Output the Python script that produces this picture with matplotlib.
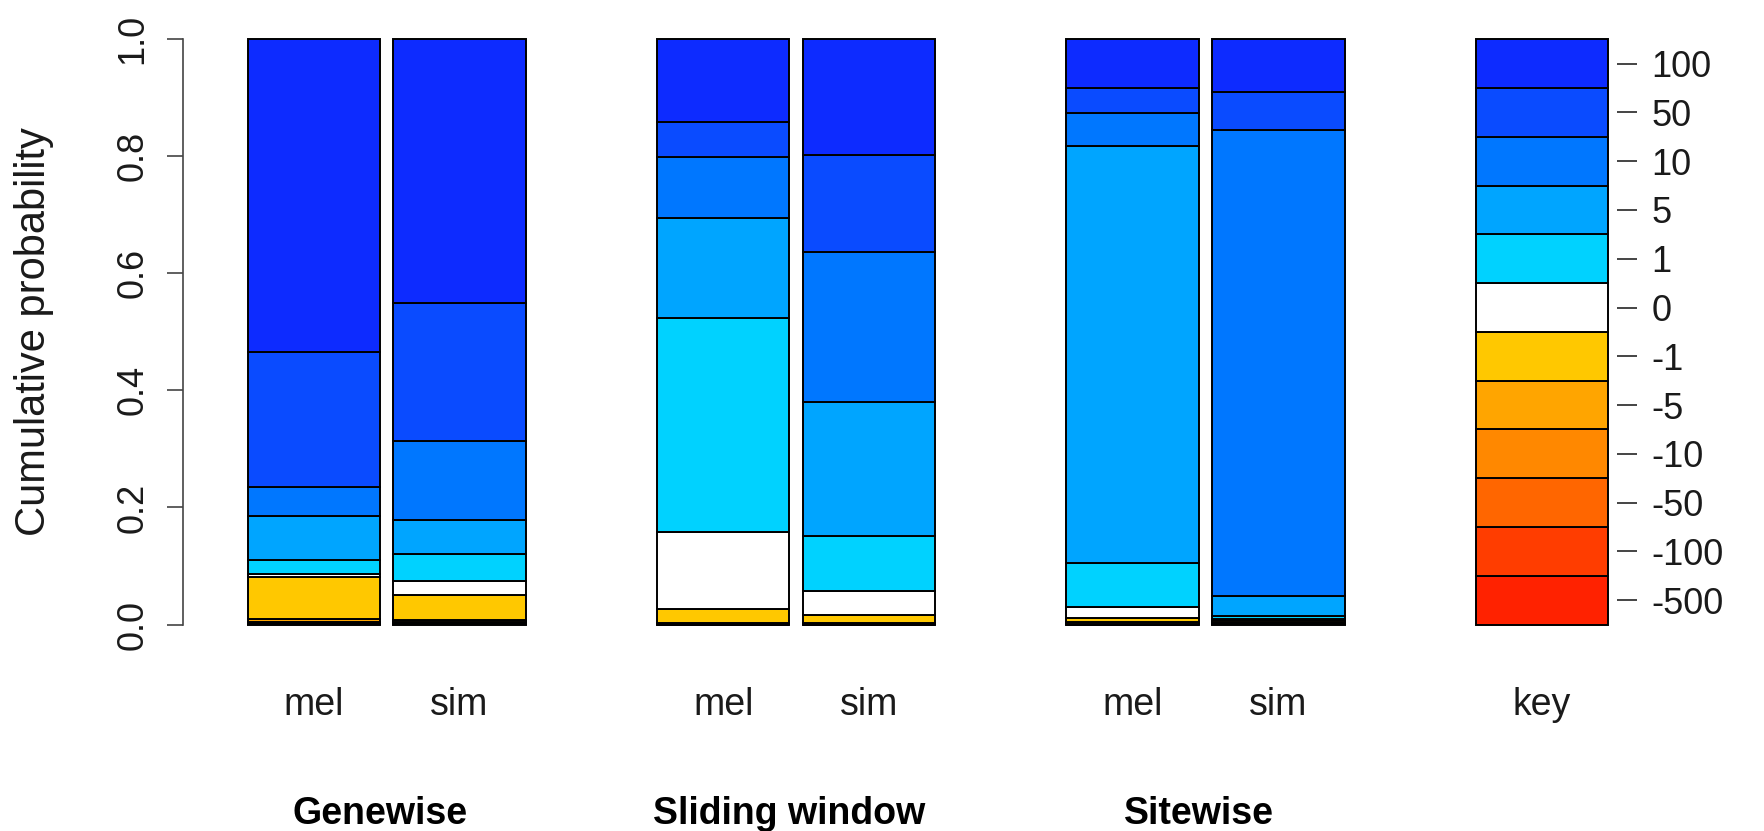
import matplotlib
matplotlib.use("Agg")
import matplotlib.pyplot as plt
import numpy as np

plt.rcParams["font.family"] = ["Liberation Sans", "DejaVu Sans"]

# score classes, bottom of each stack to top
classes = ["-500", "-100", "-50", "-10", "-5", "-1", "0", "1", "5", "10", "50", "100"]
class_colors = ["#FF2200", "#FF3D00", "#FF6600", "#FF8800", "#FFA500", "#FFC800",
                "#FFFFFF", "#00D2FF", "#00A5FF", "#0077FF", "#0A4BFF", "#0D2BFF"]

# fraction of sites in each class (same order as classes)
genewise_mel = [0.0005, 0.0005, 0.001, 0.002, 0.006, 0.071, 0.006, 0.024, 0.074, 0.050, 0.230, 0.535]
genewise_sim = [0.001, 0.001, 0.001, 0.002, 0.002, 0.044, 0.023, 0.046, 0.058, 0.135, 0.236, 0.451]
sliding_mel = [0.0, 0.0, 0.0, 0.0005, 0.0015, 0.024, 0.132, 0.366, 0.170, 0.105, 0.060, 0.141]
sliding_sim = [0.0, 0.0, 0.0, 0.0005, 0.0015, 0.014, 0.041, 0.095, 0.228, 0.257, 0.165, 0.198]
sitewise_mel = [0.0, 0.0, 0.0, 0.001, 0.003, 0.007, 0.019, 0.075, 0.712, 0.057, 0.042, 0.084]
sitewise_sim = [0.001, 0.001, 0.001, 0.002, 0.002, 0.001, 0.002, 0.004, 0.034, 0.797, 0.065, 0.090]
key_share = [1 / 12] * 12

groups = ["Genewise", "Sliding window", "Sitewise"]
species = ["mel", "sim"]
group_data = [[genewise_mel, genewise_sim], [sliding_mel, sliding_sim], [sitewise_mel, sitewise_sim]]

W, H = 1764, 831
fig = plt.figure(figsize=(W / 100, H / 100), dpi=100)

# axes box in pixels: left spine / right key ticks, 0 and 1 on the y scale
x0, x1 = 183, 1617
y_top, y_bot = 39.3, 624.5
ax = fig.add_axes([x0 / W, (H - y_bot) / H, (x1 - x0) / W, (y_bot - y_top) / H])

bar_w = 1.0
group_step = 3.09
pair_step = 1.1
px_per_unit = 132.5
first_center = 313.75
ax.set_xlim((x0 - first_center) / px_per_unit, (x1 - first_center) / px_per_unit)
ax.set_ylim(0, 1)


def stack(xc, shares):
    bottoms = np.concatenate([[0], np.cumsum(shares)[:-1]])
    ax.bar([xc] * len(shares), shares, width=bar_w, bottom=bottoms, color=class_colors,
           edgecolor="black", linewidth=1.4, clip_on=False)


text_kw = dict(fontsize=27, color="#1a1a1a")
for g, (name, pair) in enumerate(zip(groups, group_data)):
    for s, (sp, shares) in enumerate(zip(species, pair)):
        xc = g * group_step + s * pair_step
        stack(xc, shares)
        ax.text(xc, -0.155, sp, ha="center", va="baseline", **text_kw)
    ax.text(g * group_step + pair_step / 2 - 0.05, -0.341, name, ha="center", va="baseline",
            fontsize=27, fontweight="bold", color="black")

key_x = 3 * group_step
stack(key_x, key_share)
ax.text(key_x, -0.155, "key", ha="center", va="baseline", **text_kw)

# left axis drawn only over the probability range
for side in ["top", "right", "bottom"]:
    ax.spines[side].set_visible(False)
ax.spines["left"].set_color("#444444")
ax.spines["left"].set_linewidth(1.2)
ax.set_xticks([])
ax.set_yticks(np.arange(0, 1.01, 0.2))
ax.set_yticklabels([f"{v:.1f}" for v in np.arange(0, 1.01, 0.2)], rotation=90, va="center")
ax.tick_params(axis="y", length=11.5, width=1.2, color="#444444", pad=12, labelsize=26,
               labelcolor="#1a1a1a")

# key labels on the right side
kax = ax.twinx()
kax.set_ylim(0, 1)
for side in ["top", "right", "bottom", "left"]:
    kax.spines[side].set_visible(False)
key_centers = np.cumsum(key_share) - np.array(key_share) / 2
kax.set_yticks(key_centers)
kax.set_yticklabels(classes)
kax.tick_params(axis="y", length=14.5, width=1.4, color="#444444", pad=10.5, labelsize=26,
                labelcolor="#1a1a1a")

fig.text(34 / W, (H - (y_top + y_bot) / 2) / H, "Cumulative probability", rotation=90,
         ha="center", va="center", fontsize=30, color="#1a1a1a")

fig.savefig("out.png", dpi=100)
